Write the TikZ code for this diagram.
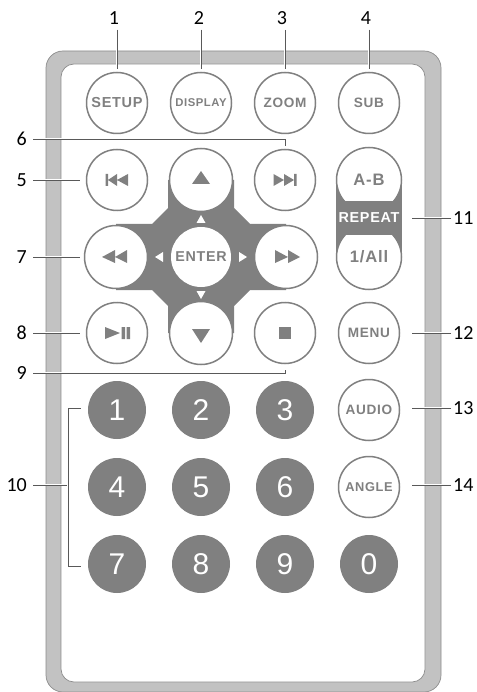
\documentclass[tikz,border=0pt]{standalone}
\usepackage{fontspec}
\setmainfont{Liberation Sans}
\newfontfamily\numfont{Carlito}
\newfontfamily\btnfont[LetterSpace=5]{Liberation Sans}
\usetikzlibrary{positioning,calc}
\definecolor{btngray}{gray}{0.5}
\definecolor{shellgray}{gray}{0.76}
\definecolor{shelledge}{gray}{0.55}
\definecolor{leadgray}{gray}{0.35}
\tikzset{
    btn/.style={circle, draw=btngray, line width=1.5pt, fill=white, minimum size=61pt, inner sep=0pt,
        text=btngray, font=\btnfont\bfseries\fontsize{13.6}{14}\selectfont},
    bigbtn/.style={btn, minimum size=63pt},
    numkey/.style={circle, fill=btngray, minimum size=58pt, inner sep=0pt, text=white,
        font=\fontsize{30}{30}\selectfont},
    lab/.style={text=black, font=\numfont\fontsize{20}{20}\selectfont},
    leader/.style={draw=leadgray, line width=0.8pt, preaction={draw=white, line width=2.6pt}},
    tri/.style={fill=btngray, draw=none},
    whtri/.style={fill=white, draw=none}
}
\begin{document}
\begin{tikzpicture}[x=1pt, y=-1pt]
    \useasboundingbox (0,0) rectangle (476,692);
    % shell of the remote
    \draw[draw=shelledge, fill=shellgray, line width=0.7pt, rounded corners=17pt] (46,51) rectangle (441,692);
    \draw[draw=shelledge, fill=white, line width=0.7pt, rounded corners=13pt] (61,64) rectangle (425,682);
    % grey cross behind the arrows
    \fill[btngray] (116,224) -- (152,224) -- (168,208) -- (168,180) -- (234,180) -- (234,208) -- (250,224)
        -- (286,224) -- (286,290) -- (250,290) -- (234,306) -- (234,333) -- (168,333) -- (168,306)
        -- (152,290) -- (116,290) -- cycle;
    % repeat bar
    \fill[btngray] (336,180) rectangle (402,257);
    % top row
    \node[btn, font=\btnfont\bfseries\fontsize{14.5}{14}\selectfont] (setup) at (117,103) {SETUP};
    \node[btn, font=\btnfont\bfseries\fontsize{11.3}{12}\selectfont] (display) at (201,103) {DISPLAY};
    \node[btn] (zoom) at (285,103) {ZOOM};
    \node[btn] (sub) at (369,103) {SUB};
    % transport keys
    \node[btn] (prev) at (117,180) {};
    \node[bigbtn] (up) at (201,180) {};
    \node[btn] (next) at (285,180) {};
    \node[bigbtn] (rew) at (116,257) {};
    \node[btn, minimum size=60pt, font=\btnfont\bfseries\fontsize{14.3}{15}\selectfont, draw=none] (enter) at (201,257) {ENTER};
    \node[bigbtn] (ff) at (286,257) {};
    \node[btn] (play) at (117,333) {};
    \node[bigbtn] (down) at (201,333) {};
    \node[btn] (stop) at (285,333) {};
    % A-B and 1/All
    \node[bigbtn, minimum size=65pt, font=\btnfont\bfseries\fontsize{16.6}{17}\selectfont] (ab) at (369,180) {A-B};
    \node[bigbtn, minimum size=65pt, font=\btnfont\bfseries\fontsize{16.6}{17}\selectfont] (all) at (369,257) {1/All};
    \fill[btngray] (336,201) rectangle (402,235);
    \node[text=white, font=\btnfont\bfseries\fontsize{14.4}{15}\selectfont, inner sep=0pt] (rpt) at (369,218) {REPEAT};
    \node[btn] (menu) at (369,333) {MENU};
    \node[btn] (audio) at (369,410) {AUDIO};
    \node[btn, font=\btnfont\bfseries\fontsize{12.8}{13}\selectfont] (angle) at (369,487) {ANGLE};
    % number keys
    \foreach \x/\y/\name in {117/410/1, 201/410/2, 285/410/3, 117/487/4, 201/487/5, 285/487/6,
                             117/564/7, 201/564/8, 285/564/9, 369/564/0}
        \node[numkey] (key\name) at (\x,\y) {\name};
    % symbols on the keys
    \fill[tri] (105.5,174) rectangle (108,186) (108,180) -- (117,174) -- (117,186) -- cycle
        (117,180) -- (128,174) -- (128,186) -- cycle;
    \fill[tri] (273.5,174) -- (284,180) -- (273.5,186) -- cycle (284,174) -- (294,180) -- (284,186) -- cycle
        (294,174) rectangle (296.5,186);
    \fill[tri] (192,184) -- (201,171) -- (210,184) -- cycle;
    \fill[tri] (192,329) -- (210,329) -- (201,343) -- cycle;
    \fill[tri] (102,257) -- (115,250) -- (115,263) -- cycle (115,257) -- (127,250) -- (127,263) -- cycle;
    \fill[tri] (275,250) -- (288,257) -- (275,263) -- cycle (288,250) -- (300,257) -- (288,263) -- cycle;
    \fill[tri] (105,327) -- (120,333) -- (105,339) -- cycle (121.5,327) rectangle (125,339) (126.5,327) rectangle (130,339);
    \fill[tri] (279,327) rectangle (291,339);
    \fill[whtri] (196.5,223) -- (201,215) -- (205.5,223) -- cycle;
    \fill[whtri] (196.5,291) -- (205.5,291) -- (201,299) -- cycle;
    \fill[whtri] (155,257) -- (163,252) -- (163,262) -- cycle;
    \fill[whtri] (239,252) -- (247,257) -- (239,262) -- cycle;
    % callouts
    \foreach \name/\x in {1/114, 2/199, 3/282, 4/366}
        \node[lab, inner sep=5pt] (lab\name) at (\x,18) {\name};
    \foreach \name/\y in {5/180, 6/139, 7/257, 8/333, 9/373, 10/485}
        \node[lab, inner sep=6pt] (lab\name) at (33,\y) [left] {\name};
    \foreach \name/\y in {11/218, 12/333, 13/408, 14/485}
        \node[lab, inner sep=2pt] (lab\name) at (451,\y) [right] {\name};
    \coordinate (tick10) at (68,485);
    \coordinate (end11) at (412,218);
    \coordinate (end13) at (412,408);
    \coordinate (end14) at (412,485);
    \draw[leader, shorten >=3pt] (lab1.south -| setup) -- (setup.north);
    \draw[leader, shorten >=3pt] (lab2.south -| display) -- (display.north);
    \draw[leader, shorten >=3pt] (lab3.south -| zoom) -- (zoom.north);
    \draw[leader, shorten >=3pt] (lab4.south -| sub) -- (sub.north);
    \draw[leader, shorten >=3pt] (lab6) -| (next.north);
    \draw[leader, shorten >=5.5pt] (lab9) -| (stop.south);
    \draw[leader, shorten >=5.5pt] (lab5) -- (prev);
    \draw[leader, shorten >=3.5pt] (lab7) -- (rew);
    \draw[leader, shorten >=5.5pt] (lab8) -- (play);
    \draw[leader] (lab10) -- (tick10);
    \draw[leader, shorten >=7pt] (tick10) |- ([yshift=2pt]key1.west);
    \draw[leader, shorten >=7pt] (tick10) |- ([yshift=-2pt]key7.west);
    \draw[leader] (lab11) -- (end11);
    \draw[leader, shorten >=12pt] (lab12) -- (menu);
    \draw[leader] (lab13) -- (end13);
    \draw[leader] (lab14) -- (end14);
\end{tikzpicture}
\end{document}
